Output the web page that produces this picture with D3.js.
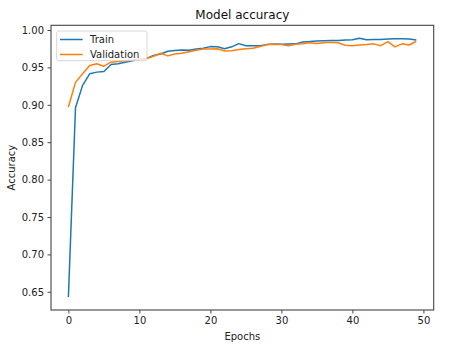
<!DOCTYPE html>
<html><head><meta charset="utf-8">
<script src="https://cdn.jsdelivr.net/npm/d3@7"></script>
<style>body{margin:0;background:#fff}text{font-family:"DejaVu Sans",sans-serif}</style>
</head><body>
<svg id="c" width="453" height="347"></svg>
<script>
const epochs = d3.range(0, 50);
const trainAcc = [0.643,0.896,0.926,0.9415,0.9437,0.9446,0.954,0.955,0.957,0.959,
0.961,0.962,0.966,0.968,0.9716,0.9725,0.9734,0.9728,0.9745,0.9755,
0.9778,0.9775,0.975,0.9775,0.9818,0.979,0.9788,0.979,0.9805,0.9812,
0.981,0.9812,0.9815,0.984,0.9845,0.9853,0.9858,0.986,0.986,0.9865,
0.987,0.989,0.987,0.9873,0.9873,0.988,0.9884,0.9884,0.988,0.9865];
const valAcc = [0.897,0.930,0.9415,0.9526,0.955,0.9516,0.957,0.958,0.959,0.960,
0.961,0.962,0.965,0.969,0.9654,0.968,0.969,0.971,0.973,0.9747,
0.9747,0.975,0.972,0.9723,0.9738,0.975,0.9755,0.978,0.9805,0.981,
0.9805,0.979,0.981,0.9815,0.983,0.982,0.983,0.9835,0.983,0.9796,
0.979,0.980,0.9805,0.9815,0.979,0.9845,0.9774,0.9815,0.980,0.985];
const seriesNames = ["Train","Validation"];
const colors = ["#1f77b4","#ff7f0e"];
const xTicks = [0,10,20,30,40,50];
const yTicks = [0.65,0.70,0.75,0.80,0.85,0.90,0.95,1.00];

const L=51,R=433.7,T=25.3,B=310;
const svg=d3.select("#c");
const xr=[0,49], xp=(xr[1]-xr[0])*0.05;
const x=d3.scaleLinear().domain([xr[0]-xp,xr[1]+xp]).range([L,R]);
const all=trainAcc.concat(valAcc);
const ymin=d3.min(all), ymax=d3.max(all), yp=(ymax-ymin)*0.05;
const y=d3.scaleLinear().domain([ymin-yp,ymax+yp]).range([B,T]);

const line=d3.line().x((d,i)=>x(epochs[i])).y(d=>y(d));
[trainAcc,valAcc].forEach((s,k)=>{
  svg.append("path").datum(s).attr("d",line).attr("fill","none")
    .attr("stroke",colors[k]).attr("stroke-width",1.5).attr("stroke-linejoin","round");
});

const xa=svg.append("g").attr("transform",`translate(0,${B})`)
  .call(d3.axisBottom(x).tickValues(xTicks).tickFormat(d3.format("d")).tickSize(3.5).tickPadding(3.5));
const ya=svg.append("g").attr("transform",`translate(${L},0)`)
  .call(d3.axisLeft(y).tickValues(yTicks).tickFormat(d3.format(".2f")).tickSize(3.5).tickPadding(3.5));
[xa,ya].forEach(a=>{a.select(".domain").remove();
  a.selectAll("text").attr("font-size",10).attr("fill","#222").style("font-family","DejaVu Sans");
  a.selectAll("line").attr("stroke","#333").attr("stroke-width",0.9);});

svg.append("rect").attr("x",L).attr("y",T).attr("width",R-L).attr("height",B-T)
  .attr("fill","none").attr("stroke","#444").attr("stroke-width",1.1);

svg.append("text").attr("x",(L+R)/2).attr("y",19).attr("text-anchor","middle")
  .attr("font-size",12).attr("fill","#111").text("Model accuracy");
svg.append("text").attr("x",(L+R)/2).attr("y",340).attr("text-anchor","middle")
  .attr("font-size",10).attr("fill","#222").text("Epochs");
svg.append("text").attr("transform",`translate(15,${(T+B)/2}) rotate(-90)`).attr("text-anchor","middle")
  .attr("font-size",10).attr("fill","#222").text("Accuracy");

const lg=svg.append("g");
lg.append("rect").attr("x",56.7).attr("y",31).attr("width",90.3).attr("height",29.7)
  .attr("rx",2).attr("fill","#fff").attr("fill-opacity",0.8).attr("stroke","#ccc").attr("stroke-width",0.8);
seriesNames.forEach((n,k)=>{
  const cy=39.5+k*15;
  lg.append("line").attr("x1",60).attr("x2",82.7).attr("y1",cy).attr("y2",cy)
    .attr("stroke",colors[k]).attr("stroke-width",1.5);
  lg.append("text").attr("x",90).attr("y",cy).attr("dy","0.35em").attr("font-size",10)
    .attr("fill","#222").text(n);
});
</script>
</body></html>
